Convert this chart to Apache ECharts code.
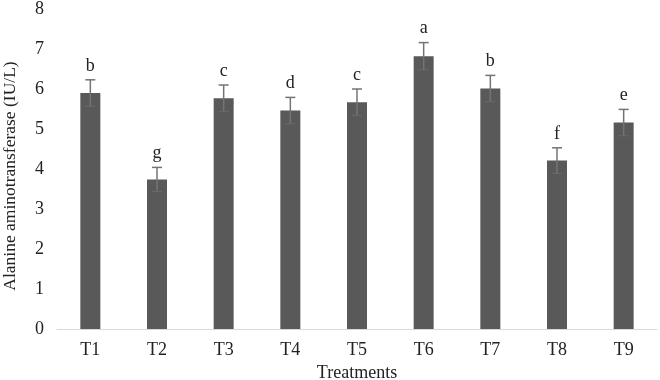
<!DOCTYPE html>
<html>
<head>
<meta charset="utf-8">
<script src="https://cdn.jsdelivr.net/npm/echarts@6/dist/echarts.min.js"></script>
<style>
html,body{margin:0;padding:0;background:#fff;}
#main{width:660px;height:380px;}
</style>
</head>
<body>
<div id="main"></div>
<script>
var categories = ['T1','T2','T3','T4','T5','T6','T7','T8','T9'];
var values = [5.9, 3.74, 5.77, 5.46, 5.67, 6.82, 6.01, 4.21, 5.16];
var errors = [0.33, 0.3, 0.33, 0.33, 0.33, 0.34, 0.33, 0.32, 0.33];
var letters = ['b','g','c','d','c','a','b','f','e'];

var errData = [];
for (var i = 0; i < values.length; i++) {
    errData.push([i, values[i] - errors[i], values[i] + errors[i], letters[i]]);
}

var chart = echarts.init(document.getElementById('main'));
var font = '"Liberation Serif", "Times New Roman", serif';

var option = {
    animation: false,
    grid: { left: 57, right: 3, top: 9, bottom: 51, outerBoundsMode: 'none' },
    xAxis: {
        type: 'category',
        data: categories,
        name: 'Treatments',
        nameLocation: 'middle',
        nameGap: 35,
        nameTextStyle: { fontFamily: font, fontSize: 18, color: '#222' },
        axisLine: { lineStyle: { color: '#d9d9d9', width: 1 } },
        axisTick: { show: false },
        axisLabel: { fontFamily: font, fontSize: 18, color: '#222', margin: 12 }
    },
    yAxis: {
        type: 'value',
        min: 0,
        max: 8,
        interval: 1,
        name: 'Alanine aminotransferase (IU/L)',
        nameLocation: 'middle',
        nameGap: 38,
        nameTextStyle: { fontFamily: font, fontSize: 17.5, color: '#222', padding: [0, 14, 0, 0] },
        axisLine: { show: false },
        axisTick: { show: false },
        splitLine: { show: false },
        axisLabel: { fontFamily: font, fontSize: 18, color: '#222', margin: 13 }
    },
    series: [
        {
            type: 'bar',
            data: values,
            barWidth: 20,
            itemStyle: { color: '#595959' }
        },
        {
            type: 'custom',
            data: errData,
            z: 10,
            renderItem: function (params, api) {
                var lo = api.coord([api.value(0), api.value(1)]);
                var hi = api.coord([api.value(0), api.value(2)]);
                var hw = 5;
                var style = { stroke: '#747474', lineWidth: 1.5 };
                return {
                    type: 'group',
                    children: [
                        { type: 'line', shape: { x1: hi[0], y1: hi[1], x2: lo[0], y2: lo[1] }, style: style },
                        { type: 'line', shape: { x1: hi[0] - hw, y1: hi[1], x2: hi[0] + hw, y2: hi[1] }, style: style },
                        { type: 'line', shape: { x1: lo[0] - hw, y1: lo[1], x2: lo[0] + hw, y2: lo[1] }, style: { stroke: '#6a6a6a', lineWidth: 1 } },
                        {
                            type: 'text',
                            style: {
                                text: api.value(3),
                                x: hi[0],
                                y: hi[1] - 5,
                                align: 'center',
                                verticalAlign: 'bottom',
                                font: '18px ' + font,
                                fill: '#222'
                            }
                        }
                    ]
                };
            }
        }
    ]
};
chart.setOption(option);
</script>
</body>
</html>
